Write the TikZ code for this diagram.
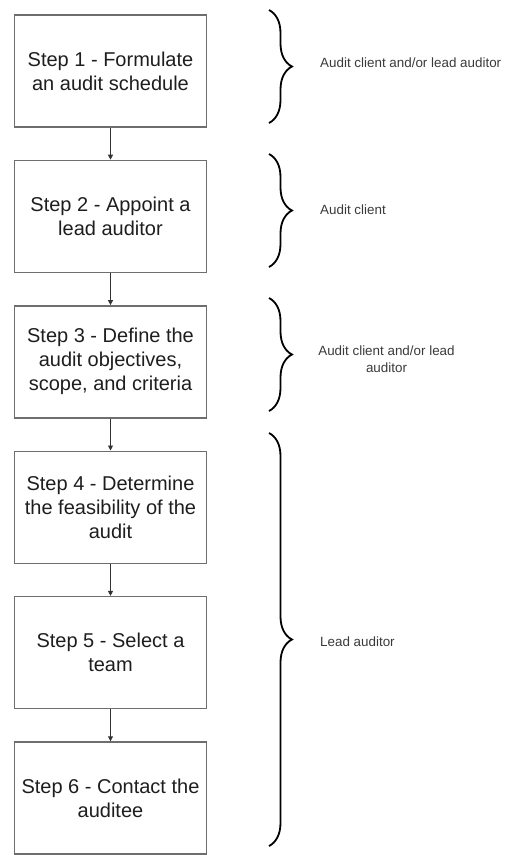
\documentclass[tikz,border=0pt]{standalone}
\usepackage{fontspec}
\setmainfont{Liberation Sans}
\usepackage{xcolor}
\usepackage{tikz}
\usetikzlibrary{arrows.meta, positioning, decorations.pathreplacing}

\definecolor{boxline}{HTML}{6E6E6E}
\definecolor{steptext}{HTML}{1E1E1E}
\definecolor{whotext}{HTML}{3A3A3A}

\begin{document}
\begin{tikzpicture}[
      x=1pt, y=-1pt,
      node distance=32pt,
      stepbox/.style={rectangle, draw=boxline, line width=1.4pt, minimum width=192pt,
        minimum height=112pt, inner sep=0pt, align=center, text=steptext,
        font=\fontsize{20}{24}\selectfont},
      flow/.style={draw=black!80, line width=0.9pt, -{Triangle[length=5pt, width=5pt]}},
      group/.style={decorate, decoration={brace, amplitude=23pt}, line width=1.8pt},
      who/.style={anchor=west, inner sep=0pt, text=whotext, font=\fontsize{13.4}{16.7}\selectfont}
    ]
      \useasboundingbox (0,0) rectangle (510,855);

      % steps
      \node[stepbox] (s1) at (110.5,71) {Step 1 - Formulate\\an audit schedule};
      \node[stepbox, below=of s1] (s2) {Step 2 - Appoint a\\lead auditor};
      \node[stepbox, below=of s2] (s3) {Step 3 - Define the\\audit objectives,\\scope, and criteria};
      \node[stepbox, below=of s3] (s4) {Step 4 - Determine\\the feasibility of the\\audit};
      \node[stepbox, below=of s4] (s5) {Step 5 - Select a\\team};
      \node[stepbox, below=of s5] (s6) {Step 6 - Contact the\\auditee};

      \foreach \a/\b in {s1/s2, s2/s3, s3/s4, s4/s5, s5/s6}
        \draw[flow] (\a) -- (\b);

      % who does it
      \draw[group] (269,10) -- (269,123);
      \draw[group] (269,154) -- (269,267);
      \draw[group] (269,298) -- (269,411);
      \draw[group] (269,433) -- (269,846);

      \node[who] (w1) at (320,63) {Audit client and/or lead auditor};
      \node[who] (w2) at (320,210) {Audit client};
      \node[who, anchor=center, align=center] (w3) at (386.5,359) {Audit client and/or lead\\auditor};
      \node[who] (w4) at (320,642) {Lead auditor};
    \end{tikzpicture}
\end{document}
